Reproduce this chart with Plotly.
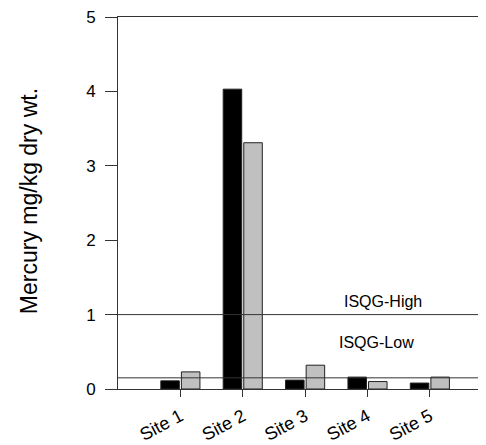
import plotly.graph_objects as go

sites = ["Site 1", "Site 2", "Site 3", "Site 4", "Site 5"]
series_a = [0.11, 4.03, 0.12, 0.16, 0.08]   # black bars
series_b = [0.23, 3.31, 0.32, 0.10, 0.16]   # grey bars
isqg_high = 1.0
isqg_low = 0.15
y_ticks = [0, 1, 2, 3, 4, 5]

FONT = "Liberation Sans, Arial, Helvetica, sans-serif"
x_idx = list(range(len(sites)))

fig = go.Figure()
fig.add_bar(x=x_idx, y=series_a, marker=dict(color="black", line=dict(color="#222", width=1)),
            showlegend=False)
fig.add_bar(x=x_idx, y=series_b, marker=dict(color="#c0c0c0", line=dict(color="#222", width=1)),
            showlegend=False)

for yv in [isqg_high, isqg_low]:
    fig.add_shape(type="line", xref="paper", x0=0, x1=1, yref="y", y0=yv, y1=yv,
                  line=dict(color="#333", width=1), layer="above")

fig.add_annotation(x=3.25, y=1.17, text="ISQG-High", showarrow=False,
                   font=dict(family=FONT, size=16, color="black"))
fig.add_annotation(x=3.14, y=0.63, text="ISQG-Low", showarrow=False,
                   font=dict(family=FONT, size=16, color="black"))
fig.add_annotation(xref="paper", yref="paper", x=0, y=0.505, xshift=-89,
                   xanchor="center", yanchor="middle",
                   text="Mercury mg/kg dry wt.", textangle=-90, showarrow=False,
                   font=dict(family=FONT, size=23, color="black"))

fig.update_layout(
    width=478, height=437,
    margin=dict(l=110, r=0, t=8, b=55),
    plot_bgcolor="white", paper_bgcolor="white",
    barmode="group", bargap=0.34, bargroupgap=0.1,
    font=dict(family=FONT, size=17, color="black"),
    xaxis=dict(range=[-1, 4.9], tickvals=x_idx, ticktext=sites, tickangle=-28,
               showline=True, linecolor="#333", linewidth=1, mirror=True,
               ticks="outside", ticklen=7, tickcolor="#333", showgrid=False, zeroline=False,
               tickfont=dict(size=18), ticklabelstandoff=2),
    yaxis=dict(range=[0, 5], tickvals=y_ticks, showline=True, linecolor="#333", linewidth=1,
               ticks="outside", ticklen=12, tickcolor="#333", showgrid=False, zeroline=False,
               tickfont=dict(size=17), ticklabeloverflow="allow", ticklabelstandoff=6),
)

fig.write_html("out.html")
